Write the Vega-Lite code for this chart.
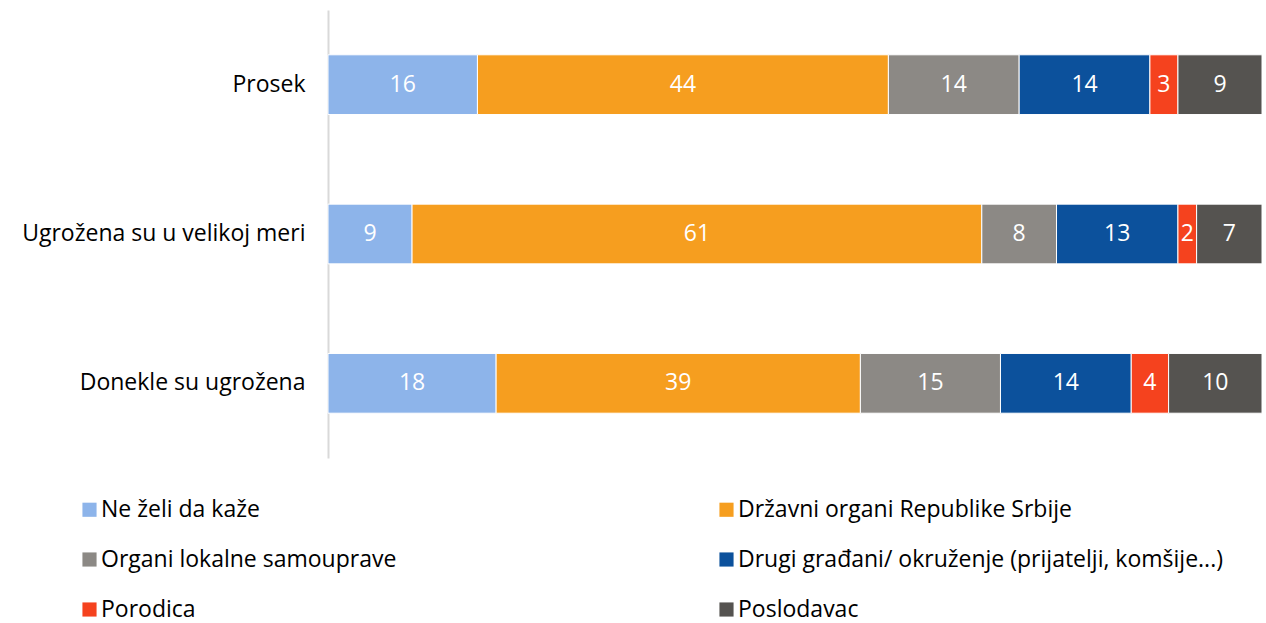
{
  "$schema": "https://vega.github.io/schema/vega-lite/v6.json",
  "width": 934,
  "height": 448,
  "autosize": {"type": "none"},
  "padding": {"left": 328, "top": 10, "right": 4, "bottom": 165},
  "background": "white",
  "config": {"view": {"stroke": null}, "font": "Open Sans"},
  "data": {
    "values": [
      {"grupa": "Prosek", "k": 1, "s": "Ne želi da kaže", "v": 16},
      {"grupa": "Prosek", "k": 2, "s": "Državni organi Republike Srbije", "v": 44},
      {"grupa": "Prosek", "k": 3, "s": "Organi lokalne samouprave", "v": 14},
      {"grupa": "Prosek", "k": 4, "s": "Drugi građani/ okruženje (prijatelji, komšije...)", "v": 14},
      {"grupa": "Prosek", "k": 5, "s": "Porodica", "v": 3},
      {"grupa": "Prosek", "k": 6, "s": "Poslodavac", "v": 9},
      {"grupa": "Ugrožena su u velikoj meri", "k": 1, "s": "Ne želi da kaže", "v": 9},
      {"grupa": "Ugrožena su u velikoj meri", "k": 2, "s": "Državni organi Republike Srbije", "v": 61},
      {"grupa": "Ugrožena su u velikoj meri", "k": 3, "s": "Organi lokalne samouprave", "v": 8},
      {"grupa": "Ugrožena su u velikoj meri", "k": 4, "s": "Drugi građani/ okruženje (prijatelji, komšije...)", "v": 13},
      {"grupa": "Ugrožena su u velikoj meri", "k": 5, "s": "Porodica", "v": 2},
      {"grupa": "Ugrožena su u velikoj meri", "k": 6, "s": "Poslodavac", "v": 7},
      {"grupa": "Donekle su ugrožena", "k": 1, "s": "Ne želi da kaže", "v": 18},
      {"grupa": "Donekle su ugrožena", "k": 2, "s": "Državni organi Republike Srbije", "v": 39},
      {"grupa": "Donekle su ugrožena", "k": 3, "s": "Organi lokalne samouprave", "v": 15},
      {"grupa": "Donekle su ugrožena", "k": 4, "s": "Drugi građani/ okruženje (prijatelji, komšije...)", "v": 14},
      {"grupa": "Donekle su ugrožena", "k": 5, "s": "Porodica", "v": 4},
      {"grupa": "Donekle su ugrožena", "k": 6, "s": "Poslodavac", "v": 10}
    ]
  },
  "transform": [
    {"stack": "v", "groupby": ["grupa"], "sort": [{"field": "k", "order": "ascending"}], "as": ["x0", "x1"]},
    {"calculate": "(datum.x0 + datum.x1) / 2", "as": "mid"}
  ],
  "encoding": {
    "y": {
      "field": "grupa",
      "type": "nominal",
      "sort": null,
      "scale": {"paddingInner": 0.6, "paddingOuter": 0.3},
      "axis": {
        "title": null,
        "ticks": false,
        "domainColor": "#D9D9D9",
        "domainWidth": 2,
        "labelFontSize": 23,
        "labelColor": "#000000",
        "labelPadding": 23,
        "labelLimit": 400,
        "labelFont": "Open Sans"
      }
    }
  },
  "layer": [
    {
      "mark": {"type": "bar", "stroke": "white", "strokeWidth": 1},
      "encoding": {
        "x": {"field": "x0", "type": "quantitative", "scale": {"domain": [0, 100], "nice": false}, "axis": null},
        "x2": {"field": "x1"},
        "color": {
          "field": "s",
          "type": "nominal",
          "sort": null,
          "scale": {
            "domain": ["Ne želi da kaže", "Državni organi Republike Srbije", "Organi lokalne samouprave", "Drugi građani/ okruženje (prijatelji, komšije...)", "Porodica", "Poslodavac"],
            "range": ["#8DB4EA", "#F69E1F", "#8C8985", "#0C519C", "#F5421E", "#555350"]
          },
          "legend": {
            "title": null,
            "orient": "none",
            "legendX": -250,
            "legendY": 488,
            "direction": "horizontal",
            "columns": 2,
            "gridAlign": "each",
            "columnPadding": 318,
            "rowPadding": 26,
            "symbolType": "square",
            "symbolSize": 200,
            "symbolStrokeWidth": 0,
            "symbolOffset": 0,
            "labelFontSize": 23,
            "labelFont": "Open Sans",
            "labelColor": "#000000",
            "labelOffset": 0,
            "labelLimit": 600
          }
        },
        "order": {"field": "k"}
      }
    },
    {
      "mark": {"type": "text", "color": "white", "fontSize": 23, "font": "Open Sans", "baseline": "middle", "align": "center"},
      "encoding": {
        "x": {"field": "mid", "type": "quantitative"},
        "text": {"field": "v", "type": "quantitative"}
      }
    }
  ]
}
